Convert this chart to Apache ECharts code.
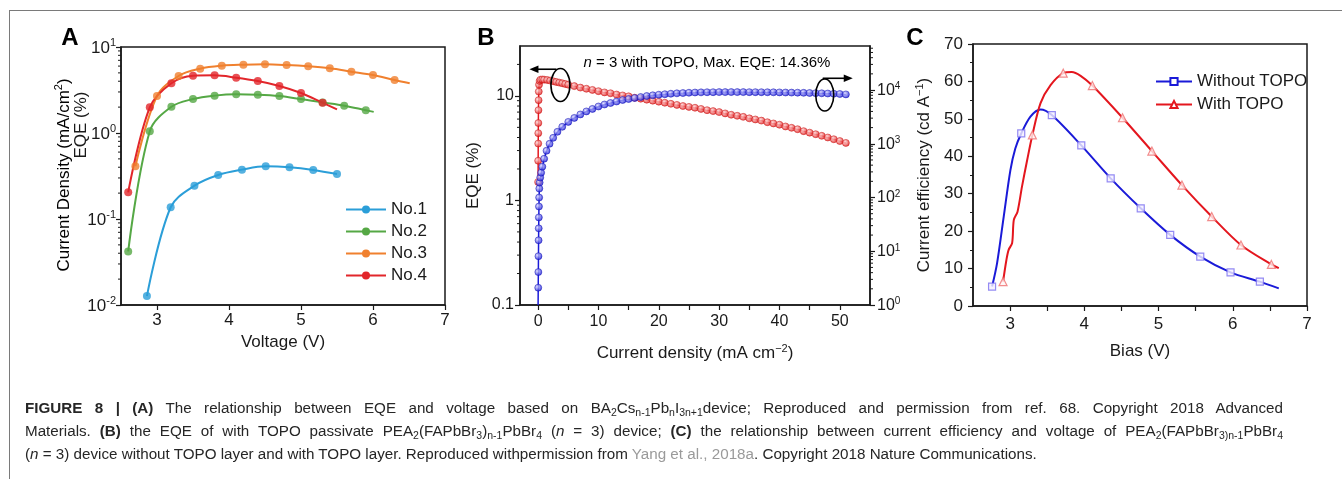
<!DOCTYPE html>
<html>
<head>
<meta charset="utf-8">
<script src="https://cdn.jsdelivr.net/npm/echarts@6/dist/echarts.min.js"></script>
<style>
  html, body { margin: 0; padding: 0; background: #fff; }
  #wrap { position: relative; width: 1342px; height: 479px; overflow: hidden; }
  #chart { position: absolute; left: 0; top: 0; width: 1342px; height: 479px; }
  #frame { position: absolute; left: 9px; top: 10px; width: 1400px; height: 500px;
           border-top: 1px solid #7a7a7a; border-left: 1px solid #7a7a7a; pointer-events: none; }
  #caption { position: absolute; left: 25px; top: 396px; width: 1258px;
             font-family: "Liberation Sans", Arial, sans-serif; font-size: 15.2px; line-height: 23px; color: #262626; }
  #caption .j { text-align: justify; text-align-last: justify; }
  #caption sub { font-size: 10.5px; vertical-align: -3px; line-height: 0; }
  #caption .ref { color: #9a9a9a; }
</style>
</head>
<body>
<div id="wrap">
  <div id="chart"></div>
  <div id="frame"></div>
  <div id="caption">
    <div class="j"><b>FIGURE 8 | (A)</b> The relationship between EQE and voltage based on BA<sub>2</sub>Cs<sub>n-1</sub>Pb<sub>n</sub>I<sub>3n+1</sub>device; Reproduced and permission from ref. 68. Copyright 2018 Advanced</div>
    <div class="j">Materials. <b>(B)</b> the EQE of with TOPO passivate PEA<sub>2</sub>(FAPbBr<sub>3</sub>)<sub>n-1</sub>PbBr<sub>4</sub> (<i>n</i> = 3) device; <b>(C)</b> the relationship between current efficiency and voltage of PEA<sub>2</sub>(FAPbBr<sub>3)n-1</sub>PbBr<sub>4</sub></div>
    <div>(<i>n</i> = 3) device without TOPO layer and with TOPO layer. Reproduced withpermission from <span class="ref">Yang et al., 2018a</span>. Copyright 2018 Nature Communications.</div>
  </div>
</div>
<script>
const FONT = '"Liberation Sans", Arial, Helvetica, sans-serif';
const INK = '#1a1a1a';

// ---- panel A: EQE vs voltage (log axis) ----
const voltA1 = [2.86, 3.19, 3.52, 3.85, 4.18, 4.51, 4.84, 5.17, 5.5];
const eqeA1 = [0.0127, 0.137, 0.244, 0.325, 0.375, 0.41, 0.40, 0.372, 0.333];
const voltA2 = [2.6, 2.9, 3.2, 3.5, 3.8, 4.1, 4.4, 4.7, 5.0, 5.3, 5.6, 5.9];
const eqeA2 = [0.042, 1.05, 2.02, 2.48, 2.72, 2.82, 2.79, 2.69, 2.48, 2.27, 2.08, 1.84];
const endA2 = [6.01, 1.76];
const voltA3 = [2.7, 3.0, 3.3, 3.6, 3.9, 4.2, 4.5, 4.8, 5.1, 5.4, 5.7, 6.0, 6.3];
const eqeA3 = [0.41, 2.69, 4.6, 5.6, 6.07, 6.23, 6.29, 6.17, 5.96, 5.65, 5.17, 4.72, 4.13];
const endA3 = [6.51, 3.79];
const voltA4 = [2.6, 2.9, 3.2, 3.5, 3.8, 4.1, 4.4, 4.7, 5.0, 5.3];
const eqeA4 = [0.204, 1.99, 3.79, 4.63, 4.68, 4.40, 4.02, 3.52, 2.92, 2.25];
const endA4 = [5.5, 1.88];
const voltTicksA = [3, 4, 5, 6, 7];

// ---- panel B: EQE (left) and luminance (right) vs current density ----
const jRed = [0, 0.01, 0.02, 0.03, 0.04, 0.06, 0.08, 0.11, 0.15, 0.25, 0.4, 0.7, 1, 1.5, 2, 2.5, 3, 3.5, 4, 4.5, 5,
  6, 7, 8, 9, 10, 11, 12, 13, 14, 15, 16, 17, 18, 19, 20, 21, 22, 23, 24, 25, 26, 27, 28, 29, 30,
  31, 32, 33, 34, 35, 36, 37, 38, 39, 40, 41, 42, 43, 44, 45, 46, 47, 48, 49, 50, 51];
const eqeRed = [1.5, 2.4, 3.5, 4.4, 5.5, 7.3, 9.1, 11.0, 12.8, 13.9, 14.3, 14.36, 14.3, 14.2, 14.0, 13.8, 13.6, 13.4, 13.2, 13.0, 12.8,
  12.4, 12.0, 11.7, 11.4, 11.1, 10.8, 10.6, 10.3, 10.1, 9.9, 9.6, 9.4, 9.2, 9.0, 8.8, 8.6, 8.4, 8.2, 8.0, 7.85, 7.7, 7.5, 7.3, 7.15, 7.0,
  6.8, 6.6, 6.45, 6.3, 6.1, 5.95, 5.8, 5.6, 5.45, 5.3, 5.1, 4.95, 4.8, 4.6, 4.45, 4.3, 4.15, 4.0, 3.85, 3.7, 3.55];
const blueStart = [0, 1.0];
const jBlue = [0.02, 0.04, 0.06, 0.08, 0.1, 0.12, 0.14, 0.17, 0.2, 0.25, 0.35, 0.5, 0.7, 1.0, 1.4, 1.9, 2.5, 3.2, 4, 5,
  6, 7, 8, 9, 10, 11, 12, 13, 14, 15, 16, 17, 18, 19, 20, 21, 22, 23, 24, 25, 26, 27, 28, 29, 30,
  31, 32, 33, 34, 35, 36, 37, 38, 39, 40, 41, 42, 43, 44, 45, 46, 47, 48, 49, 50, 51];
const lumBlue = [2.1, 4.1, 8.1, 16, 26.7, 42.6, 68, 100, 147, 190, 235, 290, 375, 527, 742, 1000, 1290, 1670, 2065, 2555,
  3030, 3515, 4000, 4450, 4945, 5385, 5740, 6120, 6530, 6810, 7110, 7410, 7740, 7980, 8190, 8360, 8540, 8690, 8790, 8910,
  9000, 9050, 9100, 9120, 9150, 9150, 9160, 9150, 9150, 9140, 9130, 9120, 9100, 9080, 9040,
  9000, 8960, 8930, 8880, 8820, 8760, 8700, 8620, 8540, 8440, 8300];
const jTicksB = [0, 5, 10, 15, 20, 25, 30, 35, 40, 45, 50];
const jLabelsB = [0, 10, 20, 30, 40, 50];

// ---- panel C: current efficiency vs bias ----
const biasWo = [2.757, 2.824, 2.914, 3.004, 3.07, 3.15, 3.274, 3.41, 3.562, 3.959, 4.355, 4.76, 5.157, 5.562, 5.97, 6.365, 6.62];
const ceWo = [5.2, 11.4, 23.9, 36.3, 42.1, 46.1, 50.6, 52.5, 51.0, 42.9, 34.1, 26.1, 19.0, 13.2, 9.0, 6.5, 4.7];
const biasWoMk = [2.757, 3.15, 3.562, 3.959, 4.355, 4.76, 5.157, 5.562, 5.97, 6.365];
const ceWoMk = [5.2, 46.1, 51.0, 42.9, 34.1, 26.1, 19.0, 13.2, 9.0, 6.5];
const biasW = [2.905, 2.95, 2.98, 3.027, 3.05, 3.10, 3.16, 3.23, 3.30, 3.41, 3.545, 3.716, 3.83, 3.95, 4.108, 4.514, 4.91, 5.315, 5.716, 6.11, 6.52, 6.62];
const ceW = [6.5, 12.3, 15.0, 16.8, 23.0, 25.2, 31.9, 39.0, 45.7, 54.2, 59.0, 62.2, 62.5, 61.5, 58.9, 50.3, 41.4, 32.3, 23.9, 16.3, 11.1, 10.1];
const biasWMk = [2.905, 3.30, 3.716, 4.108, 4.514, 4.91, 5.315, 5.716, 6.11, 6.52];
const ceWMk = [6.5, 45.7, 62.2, 58.9, 50.3, 41.4, 32.3, 23.9, 16.3, 11.1];
const biasTicksC = [3, 3.5, 4, 4.5, 5, 5.5, 6, 6.5, 7];
const biasLabelsC = [3, 4, 5, 6, 7];

const zip = (xs, ys) => xs.map((x, i) => [x, ys[i]]);

const chart = echarts.init(document.getElementById('chart'), null, { renderer: 'canvas' });

const txt = (size) => ({ fontSize: size, color: INK, fontFamily: FONT });
const axisLine = { show: true, onZero: false, lineStyle: { color: INK, width: 1.5 } };
const tick = (len) => ({ show: true, inside: false, length: len, lineStyle: { color: INK, width: 1.2 } });
const supFmt = (v) => '{b|10}{s|' + Math.round(Math.log10(v)) + '}';
const supRich = (size) => ({
  b: { fontSize: size, fontFamily: FONT, color: INK, verticalAlign: 'bottom' },
  s: { fontSize: Math.round(size * 0.62), fontFamily: FONT, color: INK, verticalAlign: 'bottom', padding: [0, 0, Math.round(size * 0.45), 0] }
});
const nameRich = (size) => ({
  a: { fontSize: size, fontFamily: FONT, color: INK, verticalAlign: 'bottom' },
  s: { fontSize: Math.round(size * 0.62), fontFamily: FONT, color: INK, verticalAlign: 'bottom', padding: [0, 0, Math.round(size * 0.45), 0] }
});

const gridBox = { show: true, borderColor: INK, borderWidth: 1.5, outerBoundsMode: 'none', containLabel: false };

function lineSeries(name, xi, yi, data, color, width, symbol, smooth) {
  return { name, type: 'line', xAxisIndex: xi, yAxisIndex: yi, data, showSymbol: false, symbol,
    smooth, lineStyle: { color, width }, itemStyle: { color }, z: 2, silent: true };
}
function markSeries(name, xi, yi, data, symbol, size, itemStyle) {
  return { name, type: 'scatter', xAxisIndex: xi, yAxisIndex: yi, data, symbol, symbolSize: size, itemStyle, z: 3, silent: true };
}
const ball = (light, dark) => new echarts.graphic.RadialGradient(0.38, 0.38, 0.62, [
  { offset: 0, color: light }, { offset: 1, color: dark }]);

const colA = ['#2b9ed8', '#55a845', '#f0802e', '#e2262b'];
const RED = '#e4161e', BLUE = '#1a1ad8';

const option = {
  animation: false,
  backgroundColor: '#fff',
  grid: [
    Object.assign({ left: 121, top: 47, width: 324, height: 258 }, gridBox),
    Object.assign({ left: 520, top: 46, width: 350, height: 259 }, gridBox),
    Object.assign({ left: 973, top: 44, width: 334, height: 262 }, gridBox)
  ],
  xAxis: [
    { gridIndex: 0, type: 'value', min: 2.5, max: 7, axisLine, splitLine: { show: false },
      axisTick: Object.assign(tick(5), { customValues: voltTicksA }),
      axisLabel: Object.assign(txt(17), { customValues: voltTicksA, margin: 7 }),
      name: 'Voltage (V)', nameLocation: 'middle', nameGap: 27, nameTextStyle: txt(17) },
    { gridIndex: 1, type: 'value', min: -3, max: 55, axisLine, splitLine: { show: false },
      axisTick: Object.assign(tick(5), { customValues: jTicksB }),
      axisLabel: Object.assign(txt(16), { customValues: jLabelsB, margin: 9 }),
      name: '{a|Current density (mA cm}{s|\u22122}{a|)}', nameLocation: 'middle', nameGap: 38,
      nameTextStyle: { rich: nameRich(17) } },
    { gridIndex: 2, type: 'value', min: 2.5, max: 7, axisLine, splitLine: { show: false },
      axisTick: Object.assign(tick(5), { customValues: biasTicksC }),
      axisLabel: Object.assign(txt(17), { customValues: biasLabelsC, margin: 10 }),
      name: 'Bias (V)', nameLocation: 'middle', nameGap: 37, nameTextStyle: txt(17) }
  ],
  yAxis: [
    { gridIndex: 0, type: 'log', min: 0.01, max: 10, axisLine, splitLine: { show: false }, axisTick: tick(5),
      axisLabel: { formatter: supFmt, rich: supRich(17), margin: 5 } },
    { gridIndex: 1, type: 'log', min: 0.1, max: 30, axisLine, splitLine: { show: false }, axisTick: tick(5),
      axisLabel: Object.assign(txt(16), { margin: 6, showMaxLabel: false,
        formatter: (v) => (v >= 1 ? String(Math.round(v)) : String(Math.round(v * 10) / 10)) }),
      name: 'EQE (%)', nameLocation: 'middle', nameGap: 38, nameTextStyle: txt(17) },
    { gridIndex: 1, type: 'log', position: 'right', min: 1, max: 66000, axisLine, splitLine: { show: false },
      axisTick: tick(5),
      axisLabel: { formatter: supFmt, rich: supRich(16), margin: 7, showMaxLabel: false } },
    { gridIndex: 2, type: 'value', min: 0, max: 70, interval: 10, axisLine, splitLine: { show: false },
      axisTick: tick(5), minorTick: { show: true, splitNumber: 2, length: 3, lineStyle: { color: INK, width: 1 } },
      axisLabel: Object.assign(txt(17), { margin: 10 }),
      name: '{a|Current efficiency (cd A}{s|\u22121}{a|)}', nameLocation: 'middle', nameGap: 40,
      nameTextStyle: { rich: nameRich(17) } }
  ],
  legend: [
    { data: ['No.1', 'No.2', 'No.3', 'No.4'], orient: 'vertical', left: 340, top: 196,
      itemWidth: 40, itemHeight: 10, itemGap: 5, textStyle: txt(17), selectedMode: false },
    { data: ['Without TOPO', 'With TOPO'], orient: 'vertical', left: 1150, top: 68,
      itemWidth: 36, itemHeight: 9, itemGap: 6, textStyle: txt(17), selectedMode: false }
  ],
  series: [
    lineSeries('No.1', 0, 0, zip(voltA1, eqeA1), colA[0], 2, 'circle', 0.35),
    lineSeries('No.2', 0, 0, zip(voltA2, eqeA2).concat([endA2]), colA[1], 2, 'circle', 0.35),
    lineSeries('No.3', 0, 0, zip(voltA3, eqeA3).concat([endA3]), colA[2], 2, 'circle', 0.35),
    lineSeries('No.4', 0, 0, zip(voltA4, eqeA4).concat([endA4]), colA[3], 2, 'circle', 0.35),
    markSeries('No.1', 0, 0, zip(voltA1, eqeA1), 'circle', 8, { color: colA[0] }),
    markSeries('No.2', 0, 0, zip(voltA2, eqeA2), 'circle', 8, { color: colA[1] }),
    markSeries('No.3', 0, 0, zip(voltA3, eqeA3), 'circle', 8, { color: colA[2] }),
    markSeries('No.4', 0, 0, zip(voltA4, eqeA4), 'circle', 8, { color: colA[3] }),

    lineSeries('EQE', 1, 1, zip(jRed, eqeRed), RED, 1.5, 'circle', false),
    markSeries('EQE', 1, 1, zip(jRed, eqeRed), 'circle', 7,
      { color: ball('#ffe0e0', '#e01a1a'), borderColor: '#c80d0d', borderWidth: 0.6 }),
    lineSeries('Luminance', 1, 2, [blueStart].concat(zip(jBlue, lumBlue)), BLUE, 1.5, 'circle', false),
    markSeries('Luminance', 1, 2, zip(jBlue, lumBlue), 'circle', 7,
      { color: ball('#dcdcff', '#1a1ad8'), borderColor: '#0c0cb0', borderWidth: 0.6 }),

    lineSeries('Without TOPO', 2, 3, zip(biasWo, ceWo), BLUE, 2, 'emptyRect', 0.3),
    lineSeries('With TOPO', 2, 3, zip(biasW, ceW), RED, 2, 'emptyTriangle', 0.3),
    markSeries('Without TOPO', 2, 3, zip(biasWoMk, ceWoMk), 'rect', 7,
      { color: '#f4f0ff', borderColor: '#7a6ff0', borderWidth: 1.2 }),
    markSeries('With TOPO', 2, 3, zip(biasWMk, ceWMk), 'triangle', 8,
      { color: '#fff4f4', borderColor: '#ef7070', borderWidth: 1.2 })
  ]
};

chart.setOption(option);

// log-axis minor ticks (2..9 per decade), placed through the axes' own scales
function logMinorTicks(yIdx, xIdx, xVal, dir, lo, hi) {
  const out = [];
  const x = chart.convertToPixel({ xAxisIndex: xIdx }, xVal);
  for (let d = Math.floor(Math.log10(lo)); d <= Math.ceil(Math.log10(hi)); d++) {
    for (let k = 2; k <= 9; k++) {
      const v = k * Math.pow(10, d);
      if (v <= lo || v >= hi) continue;
      const y = chart.convertToPixel({ yAxisIndex: yIdx }, v);
      out.push({ type: 'line', silent: true, z: 10,
        shape: { x1: x, y1: y, x2: x + dir * 3, y2: y }, style: { stroke: INK, lineWidth: 1 } });
    }
  }
  return out;
}

const g = [];
g.push(...logMinorTicks(0, 0, 2.5, -1, 0.01, 10));
g.push(...logMinorTicks(1, 1, -3, -1, 0.1, 30));
g.push(...logMinorTicks(2, 1, 55, 1, 1, 66000));

// panel letters
[['A', 70, 38], ['B', 486, 38], ['C', 915, 38]].forEach(([t, x, y]) => {
  g.push({ type: 'text', x, y, silent: true,
    style: { text: t, font: 'bold 24px ' + FONT, fill: '#000', align: 'center', verticalAlign: 'middle' } });
});

// panel A y-axis titles (two stacked rotated labels)
g.push({ type: 'text', x: 63, y: 175, rotation: Math.PI / 2, silent: true,
  style: { text: '{a|Current Density (mA/cm}{s|2}{a|)}', rich: nameRich(17), align: 'center', verticalAlign: 'middle' } });
g.push({ type: 'text', x: 81, y: 125, rotation: Math.PI / 2, silent: true,
  style: { text: 'EQE (%)', font: '17px ' + FONT, fill: INK, align: 'center', verticalAlign: 'middle' } });

// panel B annotation + circled arrows
g.push({ type: 'text', x: 707, y: 63, silent: true,
  style: { text: '{i|n}{a| = 3 with TOPO, Max. EQE: 14.36%}',
    rich: { i: { fontSize: 15, fontStyle: 'italic', fontFamily: FONT, color: '#e8262c' },
            a: { fontSize: 15, fontFamily: FONT, color: '#e8262c' } },
    align: 'center', verticalAlign: 'middle' } });

const redIdx = 8;
const cl = chart.convertToPixel({ seriesIndex: redIdx }, [3.7, 12.7]);
const cr = chart.convertToPixel({ seriesIndex: redIdx }, [47.5, 10.2]);
const ell = (c, rx, ry) => ({ type: 'ellipse', silent: true, z: 12, shape: { cx: c[0], cy: c[1], rx, ry },
  style: { fill: 'none', stroke: '#000', lineWidth: 1.6 } });
const arrow = (x1, x2, y) => {
  const d = x2 > x1 ? 1 : -1;
  return [
    { type: 'line', silent: true, z: 12, shape: { x1, y1: y, x2: x2 - d * 6, y2: y }, style: { stroke: '#000', lineWidth: 1.6 } },
    { type: 'polygon', silent: true, z: 12, shape: { points: [[x2, y], [x2 - d * 9, y - 3.8], [x2 - d * 9, y + 3.8]] },
      style: { fill: '#000' } }
  ];
};
g.push(ell(cl, 9.5, 16.5));
g.push(...arrow(cl[0] - 4, cl[0] - 31, cl[1] - 15.8));
g.push(ell(cr, 9, 16));
g.push(...arrow(cr[0] - 2, cr[0] + 28, cr[1] - 16.7));

chart.setOption({ graphic: { elements: g } });
</script>
</body>
</html>
